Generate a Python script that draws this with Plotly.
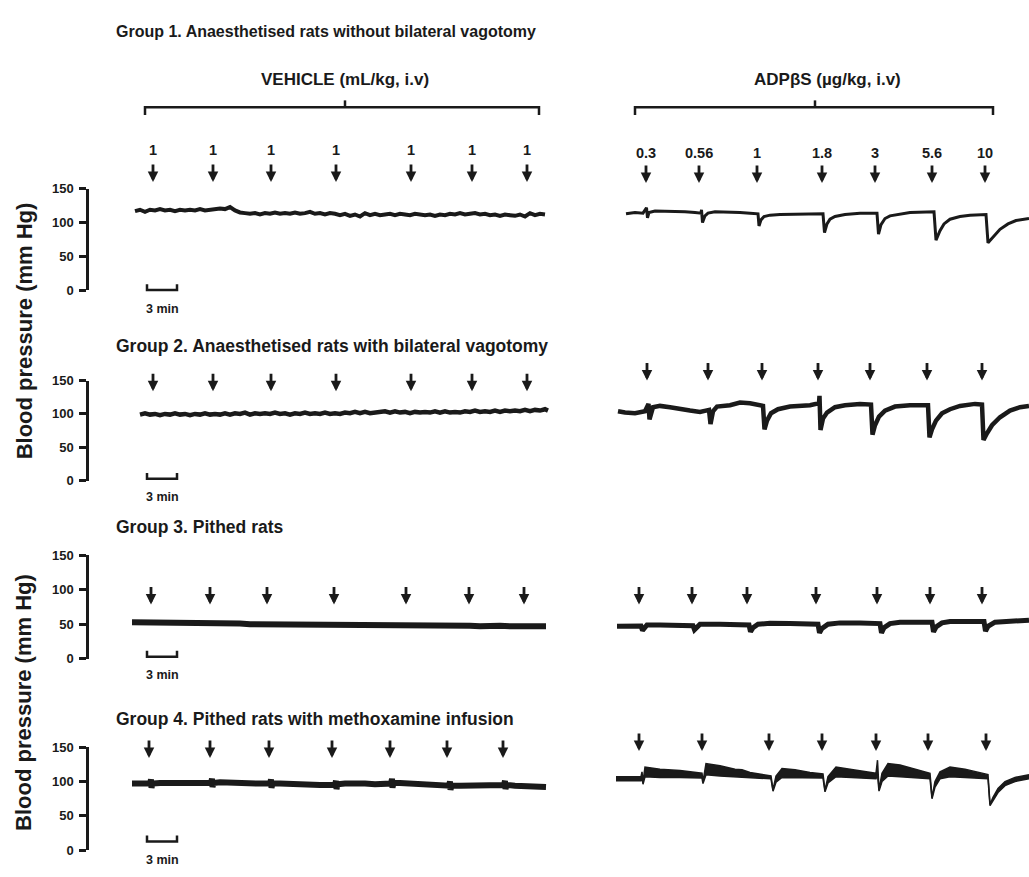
import plotly.graph_objects as go

W, H = 1029, 877

# ---------------- data ----------------
y_ticks = [0, 50, 100, 150]
vehicle_doses = ["1", "1", "1", "1", "1", "1", "1"]
adp_doses = ["0.3", "0.56", "1", "1.8", "3", "5.6", "10"]
scale_bar_min = 3

group_titles = [
    "Group 1. Anaesthetised rats without bilateral vagotomy",
    "Group 2. Anaesthetised rats with bilateral vagotomy",
    "Group 3. Pithed rats",
    "Group 4. Pithed rats with methoxamine infusion",
]
vehicle_title = "VEHICLE (mL/kg, i.v)"
adp_title = "ADPβS (µg/kg, i.v)"
y_title = "Blood pressure (mm Hg)"

# Group 1 - vehicle (time in min, BP mmHg)
g1_veh_t = [0.5, 1.0, 1.5, 2.0, 2.5, 3.0, 3.5, 4.0, 4.5, 5.0,
            5.5, 6.0, 6.5, 7.0, 7.5, 8.0, 8.5, 9.0, 9.5, 10.0,
            10.5, 11.0, 11.5, 12.0, 12.5, 13.0, 13.5, 14.0, 14.5, 15.0,
            15.5, 16.0, 16.5, 17.0, 17.5, 18.0, 18.5, 19.0, 19.5, 20.0,
            20.5, 21.0, 21.5, 22.0, 22.5, 23.0, 23.5, 24.0, 24.5, 25.0,
            25.5, 26.0, 26.5, 27.0, 27.5, 28.0, 28.5, 29.0, 29.5, 30.0,
            30.5, 31.0, 31.5, 32.0, 32.5, 33.0, 33.5, 34.0, 34.5, 35.0,
            35.5, 36.0, 36.5, 37.0, 37.5, 38.0, 38.5, 39.0, 39.5, 40.0,
            40.5, 41.0, 41.5]
g1_veh_bp = [117, 119, 116, 119, 118, 120, 118, 119, 117, 119,
             118, 119, 118, 120, 118, 119, 120, 121, 120, 123,
             118, 115, 114, 113, 114, 112, 114, 113, 115, 113,
             114, 113, 115, 113, 114, 116, 113, 114, 112, 114,
             113, 111, 113, 110, 112, 109, 114, 111, 113, 111,
             112, 113, 111, 113, 112, 111, 113, 112, 111, 112,
             110, 112, 111, 113, 112, 114, 112, 113, 114, 112,
             113, 111, 112, 110, 112, 111, 110, 112, 109, 114,
             111, 113, 112]
g1_veh_inj = [2.3, 8.3, 14.1, 20.6, 28.1, 34.2, 39.7]

# Group 1 - ADPbetaS
g1_adp_t = [1.6, 2.5, 3.3, 3.65, 3.75, 3.9, 4.5, 5.5, 6.5, 7.5, 8.5, 9.1, 9.15, 9.25, 9.5, 9.8,
            10.5, 12, 13, 14, 14.8, 14.9, 15.1, 15.4, 16, 17, 19, 21.3, 21.45, 21.7, 22, 22.5,
            23.5, 25, 26.7, 26.85, 27.1, 27.5, 28, 29, 30, 32.4, 32.6, 33.0, 33.4, 34, 35, 36,
            37.6, 37.8, 38.3, 39, 39.8, 40.6, 41.9]
g1_adp_bp = [113, 115, 114, 122, 107, 115, 117, 117, 116, 116, 115, 114, 119, 100, 110, 114,
             116, 116, 115, 114, 113, 95, 104, 109, 111, 112, 112, 113, 85, 98, 105, 109,
             112, 114, 114, 83, 97, 106, 110, 113, 115, 116, 74, 88, 98, 105, 109, 111,
             112, 70, 79, 90, 98, 103, 106]
g1_adp_inj = [3.6, 8.9, 14.7, 21.2, 26.5, 32.2, 37.5]

# Group 2 - vehicle
g2_veh_t = [1.0, 1.5, 2.0, 2.5, 3.0, 3.5, 4.0, 4.5, 5.0, 5.5,
            6.0, 6.5, 7.0, 7.5, 8.0, 8.5, 9.0, 9.5, 10.0, 10.5,
            11.0, 11.5, 12.0, 12.5, 13.0, 13.5, 14.0, 14.5, 15.0, 15.5,
            16.0, 16.5, 17.0, 17.5, 18.0, 18.5, 19.0, 19.5, 20.0, 20.5,
            21.0, 21.5, 22.0, 22.5, 23.0, 23.5, 24.0, 24.5, 25.0, 25.5,
            26.0, 26.5, 27.0, 27.5, 28.0, 28.5, 29.0, 29.5, 30.0, 30.5,
            31.0, 31.5, 32.0, 32.5, 33.0, 33.5, 34.0, 34.5, 35.0, 35.5,
            36.0, 36.5, 37.0, 37.5, 38.0, 38.5, 39.0, 39.5, 40.0, 40.5,
            41.0, 41.5, 41.8]
g2_veh_bp = [99, 101, 99, 100, 98, 100, 99, 101, 99, 100,
             98, 100, 99, 101, 99, 100, 99, 101, 99, 101,
             100, 102, 99, 101, 100, 101, 100, 102, 100, 101,
             99, 101, 100, 102, 100, 101, 100, 102, 100, 101,
             100, 102, 101, 103, 101, 103, 101, 102, 102, 104,
             102, 104, 102, 103, 101, 103, 102, 103, 102, 104,
             102, 104, 102, 103, 102, 104, 103, 105, 103, 104,
             103, 105, 103, 105, 104, 105, 104, 106, 104, 106,
             105, 107, 105]
g2_veh_inj = [2.3, 8.3, 14.1, 20.6, 28.1, 34.2, 39.7]

# Group 2 - ADPbetaS
g2_adp_t = [0.8, 1.5, 2.5, 3.5, 3.85, 3.95, 4.3, 5, 6, 7, 8, 9, 9.9, 10.05, 10.3, 10.7, 12, 13,
            14, 15.3, 15.45, 15.7, 16.1, 16.8, 18, 20, 20.9, 20.95, 21.05, 21.3, 21.7, 22.5,
            23.5, 25, 26.1, 26.25, 26.5, 26.9, 27.5, 28.5, 30, 31.8, 31.95, 32.2, 32.6, 33.2,
            34, 35, 36.5, 37.2, 37.35, 37.7, 38.2, 39, 40, 41, 41.9]
g2_adp_bp = [104, 102, 101, 104, 115, 92, 110, 112, 110, 107, 105, 103, 106, 85, 104, 111, 113,
             117, 116, 112, 77, 90, 101, 107, 111, 113, 116, 127, 76, 93, 102, 110,
             113, 115, 114, 69, 83, 96, 105, 111, 113, 113, 65, 77, 90, 101,
             107, 112, 115, 114, 61, 71, 83, 95, 105, 110, 112]
g2_adp_inj = [3.7, 9.8, 15.2, 20.8, 26.0, 31.7, 37.2]

# Group 3 - vehicle
g3_veh_t = [0.2, 1, 2, 3, 4, 5, 6, 7, 8, 9, 10, 11, 12, 13, 14, 15, 16, 17, 18, 19, 20, 21, 22,
            23, 24, 25, 26, 27, 28, 29, 30, 31, 32, 33, 34, 35, 36, 37, 38, 39, 40, 41, 41.6]
g3_veh_bp = [53, 53, 53, 53, 52, 52, 52, 52, 51, 51, 51, 51, 50, 50, 50, 50, 50, 50, 50, 50,
             50, 49, 49, 50, 49, 49, 49, 49, 49, 49, 49, 49, 48, 48, 48, 47, 48, 48, 47, 47,
             47, 47, 47]
g3_veh_inj = [2.1, 8.0, 13.7, 20.4, 27.6, 33.9, 39.4]

# Group 3 - ADPbetaS
g3_adp_t = [0.7, 1.5, 2.5, 3.1, 3.25, 3.5, 3.7, 5, 7, 8.3, 8.45, 8.7, 9, 11, 13.9, 14.05, 14.3,
            14.8, 16, 18, 20.8, 20.95, 21.2, 21.8, 23, 25, 27, 27.15, 27.4, 28, 29, 31, 32.2,
            32.35, 32.6, 33.2, 34, 36, 37.4, 37.55, 37.8, 38.5, 40, 41.9]
g3_adp_bp = [47, 47, 47.5, 47.5, 41, 46, 49, 49, 49, 48, 42, 47, 50, 50, 49, 39, 45,
             50, 51.5, 51, 50, 37.5, 44, 50, 52, 52, 51, 37.5, 45, 51, 53, 53, 53,
             39, 46, 52, 54, 54, 54, 40, 47, 53, 55, 56]
g3_adp_inj = [2.9, 8.2, 13.7, 20.6, 26.7, 32.0, 37.2]

# Group 4 - vehicle
g4_veh_t = [0.2, 1, 2.0, 2.1, 2.15, 2.25, 3, 4, 5, 6, 7, 8.1, 8.2, 8.25, 8.35, 9, 10, 11, 12, 13,
            14.0, 14.1, 14.15, 14.25, 15, 16, 17, 18, 19, 20.5, 20.6, 20.65, 20.75, 21.5, 22.5,
            23.5, 24.5, 26.1, 26.2, 26.25, 26.35, 27, 28, 29, 30, 31.9, 32.0, 32.05, 32.15, 33,
            34, 35, 36, 37.4, 37.5, 37.55, 37.65, 38.5, 39.5, 40.5, 41.6]
g4_veh_bp = [97, 97, 97, 103, 91, 97, 98, 98, 98, 98, 98, 98, 104, 92, 98, 99, 98, 98, 97, 97,
             97, 103, 91, 97, 97, 96, 96, 95, 95, 95, 101, 89, 96, 97, 98,
             97, 96, 97, 104, 91, 98, 98, 97, 96, 95, 94, 100, 88, 94, 94,
             94, 94, 94, 95, 101, 89, 95, 94, 93, 93, 92]
g4_veh_inj = [1.9, 8.0, 13.9, 20.2, 26.0, 31.7, 37.3]

# Group 4 - ADPbetaS (pulsatile: systolic / diastolic envelope)
g4_adp_t = [0.6, 1.5, 2.5, 3.1, 3.2, 3.3, 3.5, 5, 7, 9.2, 9.3, 9.6, 11, 12.5, 13.2, 14, 16.1,
            16.3, 16.6, 17.2, 18.5, 20, 21.3, 21.5, 21.8, 22.6, 24, 26.6, 26.75, 26.9, 27.2,
            27.8, 29, 30.5, 32.0, 32.2, 32.5, 33, 34, 35.5, 37.8, 38.0, 38.3, 38.8, 39.5,
            40.5, 41.9]
g4_adp_sys = [107, 107, 106, 107, 114, 99, 121, 118, 116, 112, 100, 126, 123, 118, 117, 113, 108,
              88, 108, 119, 117, 113, 111, 87, 107, 121, 118, 112, 131, 88, 112,
              126, 124, 118, 112, 77, 100, 114, 121, 118, 110, 67, 77, 90, 100,
              106, 110]
g4_adp_dia = [101, 101, 100, 101, 108, 96, 107, 106, 106, 105, 97, 110, 108, 107, 106, 105, 104,
              86, 99, 106, 106, 105, 105, 85, 98, 107, 106, 104, 110, 86, 100,
              108, 107, 105, 104, 75, 92, 104, 107, 106, 104, 65, 72, 84, 94,
              100, 104]
g4_adp_inj = [2.9, 9.2, 15.9, 21.2, 26.6, 31.8, 37.6]

# ---------------- layout / style ----------------
FONT = "Liberation Sans, Arial, sans-serif"
INK = "#1a1a1a"
rows_px = [(185, 288), (380, 482), (558, 663), (753, 858)]   # (y of 150, y of 0)
cols_px = [(89, 560), (560, 1029)]
cols_t0 = [130, 610]          # pixel where t = 0
px_per_min = 10.0
arrow_tip = [(178, 179), (391, 380), (608, 608), (764, 757)]
label_y = [(145, 149), None, None, None]
scalebar_y = [288, 480, 661, 849]
title_y = [25, 345, 529, 724]
title_size = [16, 17.5, 17.5, 17.5]
heading_y = 74
bracket_y = 102

panels = [
    dict(t=g1_veh_t, bp=g1_veh_bp, inj=g1_veh_inj, lw=4.0, lab=vehicle_doses),
    dict(t=g1_adp_t, bp=g1_adp_bp, inj=g1_adp_inj, lw=3.0, lab=adp_doses),
    dict(t=g2_veh_t, bp=g2_veh_bp, inj=g2_veh_inj, lw=4.5),
    dict(t=g2_adp_t, bp=g2_adp_bp, inj=g2_adp_inj, lw=4.5),
    dict(t=g3_veh_t, bp=g3_veh_bp, inj=g3_veh_inj, lw=6.0),
    dict(t=g3_adp_t, bp=g3_adp_bp, inj=g3_adp_inj, lw=5.0),
    dict(t=g4_veh_t, bp=g4_veh_bp, inj=g4_veh_inj, lw=6.0),
    dict(t=g4_adp_t, hi=g4_adp_sys, lo=g4_adp_dia, inj=g4_adp_inj, lw=1.5),
]


def px_x(px):
    return px / W


def px_y(py):
    return 1 - py / H


def sid(k):
    return "" if k == 0 else str(k + 1)


def text_ann(x, y, text, size, xref="paper", xanchor="center", angle=0):
    return dict(x=x, y=y, xref=xref, yref="paper", text=text, showarrow=False,
                xanchor=xanchor, yanchor="middle", textangle=angle,
                font=dict(family=FONT, size=size, color=INK))


fig = go.Figure()
layout = {}
annotations = []
shapes = []

for k, p in enumerate(panels):
    r, c = divmod(k, 2)
    xa, ya = "x" + sid(k), "y" + sid(k)
    if "hi" in p:
        fig.add_trace(go.Scatter(x=p["t"], y=p["lo"], mode="lines", xaxis=xa, yaxis=ya,
                                 line=dict(color=INK, width=p["lw"]), hoverinfo="skip",
                                 showlegend=False))
        fig.add_trace(go.Scatter(x=p["t"], y=p["hi"], mode="lines", xaxis=xa, yaxis=ya,
                                 fill="tonexty", fillcolor=INK,
                                 line=dict(color=INK, width=p["lw"]), hoverinfo="skip",
                                 showlegend=False))
    else:
        fig.add_trace(go.Scatter(x=p["t"], y=p["bp"], mode="lines", xaxis=xa, yaxis=ya,
                                 line=dict(color=INK, width=p["lw"]), hoverinfo="skip",
                                 showlegend=False))
    x0p, x1p = cols_px[c]
    t0 = cols_t0[c]
    layout["xaxis" + sid(k)] = dict(domain=[px_x(x0p), px_x(x1p)],
                                    range=[(x0p - t0) / px_per_min, (x1p - t0) / px_per_min],
                                    visible=False, fixedrange=True, anchor=ya)
    ytop, ybot = rows_px[r]
    yd = dict(domain=[px_y(ybot), px_y(ytop)], range=[0, 150], anchor=xa, fixedrange=True,
              showgrid=False, zeroline=False)
    if c == 0:
        yd.update(showline=True, linecolor=INK, linewidth=2.5, ticks="outside", ticklen=7,
                  tickwidth=2.5, tickcolor=INK, tickvals=y_ticks,
                  ticktext=["<b>%d</b>" % v for v in y_ticks],
                  tickfont=dict(family=FONT, size=13, color=INK), ticklabelstandoff=3)
        # scale bar (3 min)
        sb = scalebar_y[r]
        tb = 1.7
        shapes.append(dict(type="path", xref=xa, yref="paper",
                           path="M%f,%f L%f,%f L%f,%f L%f,%f" % (
                               tb, px_y(sb - 6), tb, px_y(sb), tb + scale_bar_min, px_y(sb),
                               tb + scale_bar_min, px_y(sb - 6)),
                           line=dict(color=INK, width=2.5)))
        annotations.append(text_ann(tb + scale_bar_min / 2, px_y(sb + 19),
                                    "<b>%d min</b>" % scale_bar_min, 12.5, xref=xa))
    else:
        yd.update(visible=False)
    layout["yaxis" + sid(k)] = yd

    tip = arrow_tip[r][c]
    for j, tt in enumerate(p["inj"]):
        annotations.append(dict(x=tt, y=px_y(tip), xref=xa, yref="paper", text="",
                                showarrow=True, ax=0, ay=-19, arrowhead=2, arrowsize=0.75,
                                arrowwidth=2.8, arrowcolor=INK))
        if "lab" in p:
            annotations.append(text_ann(tt, px_y(label_y[r][c]), "<b>%s</b>" % p["lab"][j],
                                        14.5, xref=xa))

# group titles
for r, txt in enumerate(group_titles):
    annotations.append(text_ann(px_x(114), px_y(title_y[r]), "<b>%s</b>" % txt,
                                title_size[r], xanchor="left"))

# treatment headings and brackets
for (txt, cx, bl, br, bc) in [(vehicle_title, 345, 145, 539, 345), (adp_title, 827, 635, 993, 815)]:
    annotations.append(text_ann(px_x(cx), px_y(heading_y), "<b>%s</b>" % txt, 17))
    by = bracket_y
    shapes.append(dict(type="path", xref="paper", yref="paper",
                       path="M%f,%f L%f,%f L%f,%f L%f,%f" % (
                           px_x(bl), px_y(by + 8), px_x(bl), px_y(by), px_x(br), px_y(by),
                           px_x(br), px_y(by + 8)),
                       line=dict(color=INK, width=2.5)))
    shapes.append(dict(type="line", xref="paper", yref="paper", x0=px_x(bc), x1=px_x(bc),
                       y0=px_y(by), y1=px_y(by - 7), line=dict(color=INK, width=2.5)))

# y-axis titles
for cy in [330, 708]:
    annotations.append(text_ann(px_x(24), px_y(cy), "<b>%s</b>" % y_title, 22, angle=-90))

fig.update_layout(**layout)
fig.update_layout(width=W, height=H, margin=dict(l=0, r=0, t=0, b=0),
                  paper_bgcolor="white", plot_bgcolor="white",
                  annotations=annotations, shapes=shapes, showlegend=False)
fig.write_html("out.html", config={"displayModeBar": False},
               post_script="document.body.style.margin='0px';")
